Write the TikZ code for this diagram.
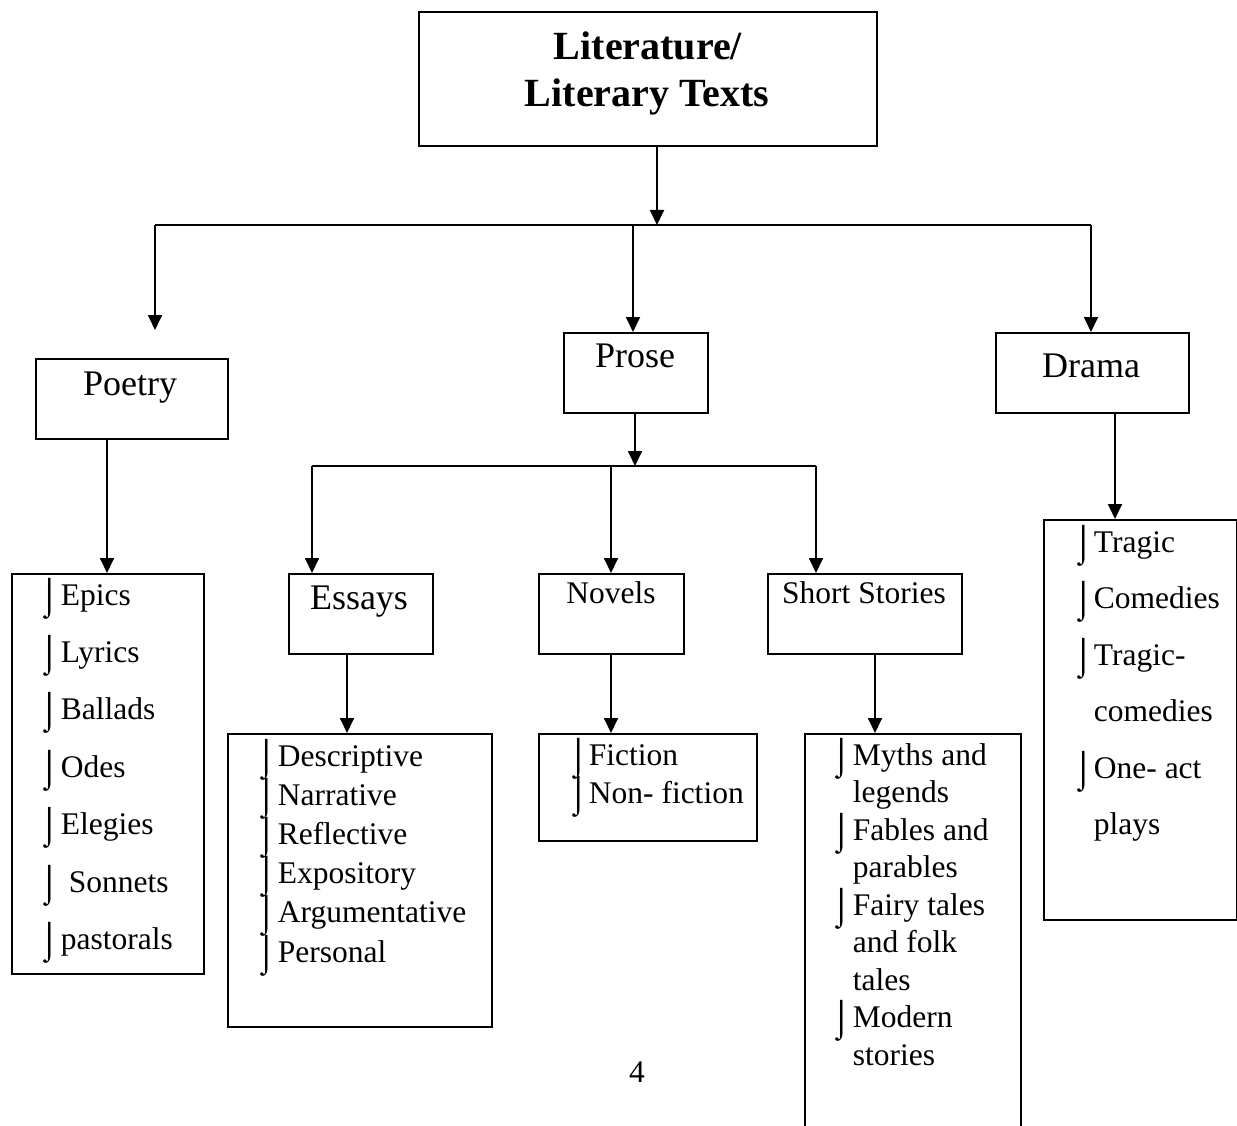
\documentclass[tikz,border=0pt]{standalone}
\usepackage{fontspec}
\setmainfont{Liberation Serif}
\usetikzlibrary{arrows.meta}
\newcommand\mybul{\raisebox{-3pt}{\scalebox{1.1}[1.15]{⌡}}}
\begin{document}
\begin{tikzpicture}[x=1pt,y=-1pt,
  line width=1.8pt,
  box/.style={draw, line width=1.8pt, inner sep=0pt, anchor=north west},
  arr/.style={-{Triangle[length=15pt,width=14pt]}},
  lbl/.style={inner sep=0pt, anchor=base, font=\fontsize{36}{40}\selectfont},
  sub/.style={inner sep=0pt, anchor=base, font=\fontsize{31.5}{38}\selectfont},
  itm/.style={inner sep=0pt, anchor=base west, font=\fontsize{31.5}{38}\selectfont},
  bul/.style={inner sep=0pt, anchor=base west, font=\fontsize{31.5}{38}\selectfont},
]
\useasboundingbox (0,0) rectangle (1237,1126);

% boxes
\node[box, minimum width=458pt, minimum height=134pt] (title) at (418,11) {};
\node[box, minimum width=192pt, minimum height=80pt] (poetry) at (35,358) {};
\node[box, minimum width=144pt, minimum height=80pt] (prose) at (563,332) {};
\node[box, minimum width=193pt, minimum height=80pt] (drama) at (995,332) {};
\node[box, minimum width=144pt, minimum height=80pt] (essays) at (288,573) {};
\node[box, minimum width=145pt, minimum height=80pt] (novels) at (538,573) {};
\node[box, minimum width=194pt, minimum height=80pt] (short) at (767,573) {};
\node[box, minimum width=192pt, minimum height=400pt] (plist) at (11,573) {};
\node[box, minimum width=264pt, minimum height=293pt] (elist) at (227,733) {};
\node[box, minimum width=218pt, minimum height=107pt] (nlist) at (538,733) {};
\node[box, minimum width=216pt, minimum height=420pt] (slist) at (804,733) {};
\node[box, minimum width=193pt, minimum height=400pt] (dlist) at (1043,519) {};

% headings
\node[inner sep=0pt, anchor=base, font=\bfseries\fontsize{40}{47}\selectfont] (title1) at (648,60) {Literature/};
\node[inner sep=0pt, anchor=base, font=\bfseries\fontsize{40}{47}\selectfont] (title2) at (647,107) {Literary Texts};
\node[lbl] (poetryT) at (130,395) {Poetry};
\node[lbl] (proseT) at (635,367) {Prose};
\node[lbl] (dramaT) at (1091,377) {Drama};
\node[lbl] (essaysT) at (359,609) {Essays};
\node[sub] (novelsT) at (611,603) {Novels};
\node[sub] (shortT) at (864,603) {Short Stories};
\node[sub] (page) at (637,1082) {4};

% connectors
\coordinate (t1) at (657,225);
\coordinate (hl) at (155,225);
\coordinate (hm) at (633,225);
\coordinate (hr) at (1091,225);
\coordinate (pa) at (155,330);
\draw[arr] (title.south -| t1) -- (t1);
\draw (hl) -- (hr);
\draw[arr] (hl) -- (pa);
\draw[arr] (hm) -- (hm |- prose.north);
\draw[arr] (hr) -- (hr |- drama.north);

\coordinate (p2) at (635,466);
\coordinate (el) at (312,466);
\coordinate (nm) at (611,466);
\coordinate (sr) at (816,466);
\draw[arr] (prose.south -| p2) -- (p2);
\draw (el) -- (sr);
\draw[arr] (el) -- (el |- essays.north);
\draw[arr] (nm) -- (nm |- novels.north);
\draw[arr] (sr) -- (sr |- short.north);

\coordinate (xp) at (107,0);
\coordinate (xe) at (347,0);
\coordinate (xn) at (611,0);
\coordinate (xs) at (875,0);
\coordinate (xd) at (1115,0);
\draw[arr] (poetry.south -| xp) -- (plist.north -| xp);
\draw[arr] (essays.south -| xe) -- (elist.north -| xe);
\draw[arr] (novels.south -| xn) -- (nlist.north -| xn);
\draw[arr] (short.south -| xs) -- (slist.north -| xs);
\draw[arr] (drama.south -| xd) -- (dlist.north -| xd);

% poetry list
\foreach \t [count=\i] in {Epics,Lyrics,Ballads,Odes,Elegies,{\hspace{8pt}Sonnets},pastorals}{
  \node[bul] (pb\i) at (38,{605+57.4*(\i-1)}) {\mybul};
  \node[itm] (pt\i) at (60,{605+57.4*(\i-1)}) {\t};
}
% essays list
\foreach \t [count=\i] in {Descriptive,Narrative,Reflective,Expository,Argumentative,Personal}{
  \node[bul] (eb\i) at (255,{766+39.2*(\i-1)}) {\mybul};
  \node[itm] (et\i) at (277,{766+39.2*(\i-1)}) {\t};
}
% novels list
\foreach \t [count=\i] in {Fiction,Non- fiction}{
  \node[bul] (nb\i) at (567,{765+38.5*(\i-1)}) {\mybul};
  \node[itm] (nt\i) at (588,{765+38.5*(\i-1)}) {\t};
}
% short stories list
\foreach \t/\b [count=\i] in {Myths and/1,legends/0,Fables and/1,parables/0,Fairy tales/1,and folk/0,tales/0,Modern/1,stories/0}{
  \ifnum\b=1 \node[bul] (sb\i) at (830,{765+37.5*(\i-1)}) {\mybul};\fi
  \node[itm] (st\i) at (852,{765+37.5*(\i-1)}) {\t};
}
% drama list
\foreach \t/\b [count=\i] in {Tragic/1,Comedies/1,Tragic-/1,comedies/0,One- act/1,plays/0}{
  \ifnum\b=1 \node[bul] (db\i) at (1072,{552+56.5*(\i-1)}) {\mybul};\fi
  \node[itm] (dt\i) at (1093,{552+56.5*(\i-1)}) {\t};
}
\end{tikzpicture}
\end{document}
